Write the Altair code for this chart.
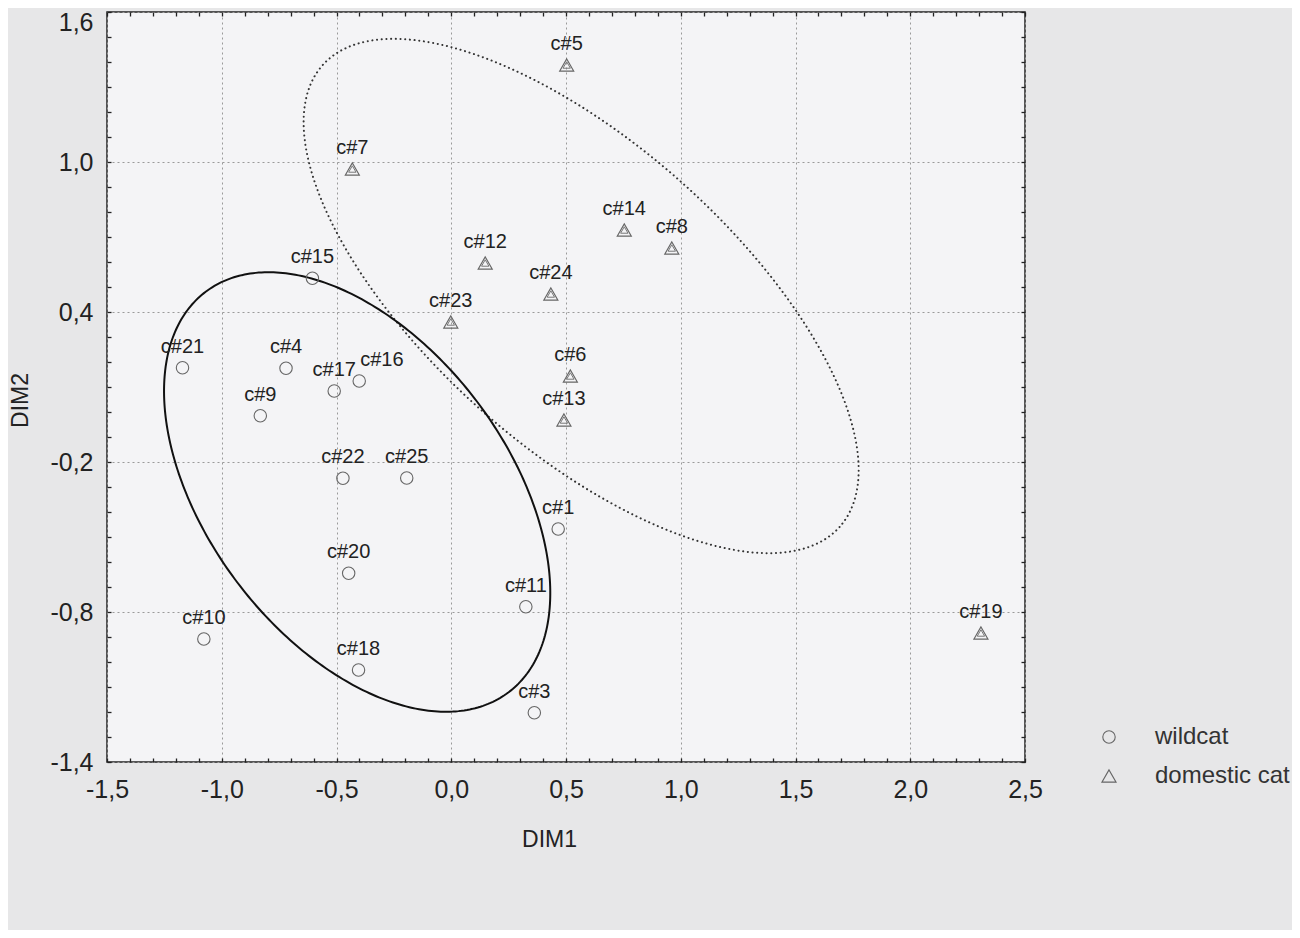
import altair as alt
import numpy as np
import pandas as pd

FONT = "Liberation Sans"

# ---- data ----
GROUPS = ["wildcat", "domestic cat"]

WILD_LABELS = ["c#15", "c#21", "c#4", "c#17", "c#16", "c#9", "c#22", "c#25",
               "c#1", "c#20", "c#11", "c#10", "c#18", "c#3"]
WILD_DIM1 = [-0.605, -1.171, -0.720, -0.510, -0.401, -0.832, -0.472, -0.194,
             0.466, -0.447, 0.325, -1.078, -0.404, 0.362]
WILD_DIM2 = [0.535, 0.177, 0.175, 0.084, 0.124, -0.015, -0.265, -0.264,
             -0.468, -0.645, -0.779, -0.908, -1.032, -1.203]

DOM_LABELS = ["c#5", "c#7", "c#14", "c#8", "c#12", "c#24", "c#23", "c#6", "c#13", "c#19"]
DOM_DIM1 = [0.503, -0.431, 0.754, 0.961, 0.148, 0.434, -0.002, 0.519, 0.491, 2.308]
DOM_DIM2 = [1.388, 0.972, 0.728, 0.656, 0.596, 0.472, 0.360, 0.144, -0.032, -0.884]

# ellipses: centre and two conjugate semi-axis vectors (DIM1, DIM2)
WILD_CENTER = (-0.41, -0.32)
WILD_AXIS_A = (0.660, -0.801)
WILD_AXIS_B = (-0.522, -0.362)
DOM_CENTER = (0.566, 0.464)
DOM_AXIS_A = (1.126, -0.924)
DOM_AXIS_B = (-0.441, -0.452)

X_MAJOR = [-1.5, -1.0, -0.5, 0.0, 0.5, 1.0, 1.5, 2.0, 2.5]
Y_MAJOR = [-1.4, -0.8, -0.2, 0.4, 1.0, 1.6]

# minor ticks every 0.1 between the major ones
X_TICKS = [round(X_MAJOR[0] + 0.1 * i, 1) for i in range(int(round((X_MAJOR[-1] - X_MAJOR[0]) * 10)) + 1)]
Y_TICKS = [round(Y_MAJOR[0] + 0.1 * i, 1) for i in range(int(round((Y_MAJOR[-1] - Y_MAJOR[0]) * 10)) + 1)]

# ---- tables ----
pts = pd.DataFrame({
    "label": WILD_LABELS + DOM_LABELS,
    "DIM1": WILD_DIM1 + DOM_DIM1,
    "DIM2": WILD_DIM2 + DOM_DIM2,
    "group": [GROUPS[0]] * len(WILD_LABELS) + [GROUPS[1]] * len(DOM_LABELS),
})


def ellipse(center, a, b, name):
    t = np.linspace(0, 2 * np.pi, 361)
    return pd.DataFrame({
        "DIM1": center[0] + a[0] * np.cos(t) + b[0] * np.sin(t),
        "DIM2": center[1] + a[1] * np.cos(t) + b[1] * np.sin(t),
        "order": np.arange(len(t)),
        "group": name,
    })


ell_wild = ellipse(WILD_CENTER, WILD_AXIS_A, WILD_AXIS_B, GROUPS[0])
ell_dom = ellipse(DOM_CENTER, DOM_AXIS_A, DOM_AXIS_B, GROUPS[1])

xs = alt.Scale(domain=[X_MAJOR[0], X_MAJOR[-1]], nice=False, zero=False)
ys = alt.Scale(domain=[Y_MAJOR[0], Y_MAJOR[-1]], nice=False, zero=False)

x_major_test = "abs(round(datum.value*10)) % 5 == 0"
y_major_test = "(round(datum.value*10) + 14) % 6 == 0"


def lab(test):
    return (f"{test} ? (datum.value < -0.001 ? '-' : '') + "
            "replace(format(abs(datum.value), '.1f'), '.', ',') : ''")


TICK = alt.ExprRef(expr="-4")

common_axis = dict(
    domain=False, labelFont=FONT, labelFontSize=25, labelColor="#222",
    labelOverlap=False, labelFlush=False,
    tickSize=TICK, tickColor="#222", tickWidth=1.3,
    grid=True, gridColor="#9a9a9a", gridDash=[2, 3], gridWidth=1,
    titleFont=FONT, titleFontSize=23, titleFontWeight="normal", titleColor="#222",
)

x_axis = alt.Axis(
    orient="bottom", values=X_TICKS, labelExpr=lab(x_major_test), labelPadding=19,
    gridOpacity={"condition": {"test": x_major_test, "value": 1}, "value": 0},
    title="DIM1", titleX=442, titleY=84, titleAlign="center", titleBaseline="alphabetic",
    **common_axis,
)
y_axis = alt.Axis(
    orient="left", values=Y_TICKS, labelExpr=lab(y_major_test), labelPadding=18,
    labelOffset={"condition": {"test": "datum.value > 1.55", "value": 10}, "value": 0},
    gridOpacity={"condition": {"test": y_major_test, "value": 1}, "value": 0},
    title="DIM2", titleX=-80, titleY=388, titleAlign="center", titleBaseline="alphabetic",
    titleAngle=-90,
    **common_axis,
)

shape_scale = alt.Scale(domain=GROUPS, range=["circle", "triangle-up"])
size_scale = alt.Scale(domain=GROUPS, range=[154, 200])

legend = alt.Legend(
    title=None, orient="none", legendX=990, legendY=713, padding=0,
    symbolStrokeColor="#666", symbolStrokeWidth=1.1, symbolFillColor="transparent",
    labelFont=FONT, labelFontSize=24, labelColor="#333", labelOffset=34,
    rowPadding=15, labelLimit=400,
)

points = alt.Chart(pts).mark_point(filled=False, color="#666", strokeWidth=1.1, opacity=1).encode(
    x=alt.X("DIM1:Q", scale=xs, axis=x_axis),
    y=alt.Y("DIM2:Q", scale=ys, axis=y_axis),
    shape=alt.Shape("group:N", scale=shape_scale, legend=legend),
    size=alt.Size("group:N", scale=size_scale, legend=legend),
)

inner_tri = alt.Chart(pts).transform_filter(
    alt.datum.group == GROUPS[1]
).mark_point(shape="triangle-up", filled=False, color="#777", strokeWidth=1, size=55, opacity=1).encode(
    x=alt.X("DIM1:Q", scale=xs, axis=None),
    y=alt.Y("DIM2:Q", scale=ys, axis=None),
)

text_main = alt.Chart(pts).transform_filter(
    alt.datum.label != "c#16"
).mark_text(font=FONT, fontSize=20, color="#222", dy=-15, baseline="alphabetic", align="center").encode(
    x=alt.X("DIM1:Q", scale=xs, axis=None),
    y=alt.Y("DIM2:Q", scale=ys, axis=None),
    text="label:N",
)
text_side = alt.Chart(pts).transform_filter(
    alt.datum.label == "c#16"
).mark_text(font=FONT, fontSize=20, color="#222", dy=-15, dx=1, baseline="alphabetic", align="left").encode(
    x=alt.X("DIM1:Q", scale=xs, axis=None),
    y=alt.Y("DIM2:Q", scale=ys, axis=None),
    text="label:N",
)

ell1 = alt.Chart(ell_wild).mark_line(color="#111", strokeWidth=2).encode(
    x=alt.X("DIM1:Q", scale=xs, axis=None),
    y=alt.Y("DIM2:Q", scale=ys, axis=None),
    order="order:Q",
)
ell2 = alt.Chart(ell_dom).mark_line(color="#333", strokeWidth=2, strokeDash=[0.1, 4.6], strokeCap="round").encode(
    x=alt.X("DIM1:Q", scale=xs, axis=None),
    y=alt.Y("DIM2:Q", scale=ys, axis=None),
    order="order:Q",
)

# top and right tick-only axes
frame_axes = dict(domain=False, labels=False, grid=False, title=None,
                  tickSize=TICK, tickColor="#222", tickWidth=1.3)
frame = alt.Chart(pts).mark_point(opacity=0).encode(
    x=alt.X("DIM1:Q", scale=xs, axis=alt.Axis(orient="top", values=X_TICKS, **frame_axes)),
    y=alt.Y("DIM2:Q", scale=ys, axis=alt.Axis(orient="right", values=Y_TICKS, **frame_axes)),
)

chart = alt.layer(ell2, ell1, points, inner_tri, text_main, text_side, frame).resolve_axis(
    x="independent", y="independent"
).properties(
    width=918, height=750,
    padding={"left": 99, "top": 4, "right": 267, "bottom": 168},
    autosize=alt.AutoSizeParams(type="none"),
    background="#e7e7e8",
).configure_view(
    fill="#f4f4f6", stroke="#222", strokeWidth=1.5,
)

chart.save("out.html", embed_options={"renderer": "svg", "actions": False})
